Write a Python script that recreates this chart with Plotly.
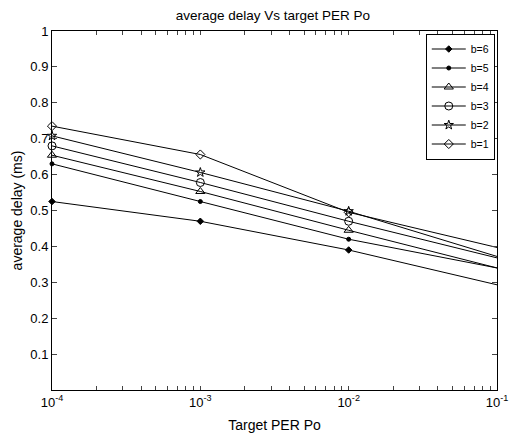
import plotly.graph_objects as go

x_vals = [1e-4, 1e-3, 1e-2, 1e-1]
labels = ["b=6", "b=5", "b=4", "b=3", "b=2", "b=1"]
b6 = [0.525, 0.470, 0.390, 0.293]
b5 = [0.630, 0.525, 0.420, 0.340]
b4 = [0.654, 0.553, 0.445, 0.340]
b3 = [0.680, 0.578, 0.470, 0.368]
b2 = [0.708, 0.606, 0.498, 0.372]
b1 = [0.735, 0.656, 0.495, 0.397]
series = [b6, b5, b4, b3, b2, b1]
symbols = ["diamond", "circle", "triangle-up-open", "circle-open", "star-open", "diamond-open"]
sizes = [5, 4, 8, 8, 7, 7]

decades = [1e-4, 1e-3, 1e-2]
decade_labels = ["10<sup>-4</sup>", "10<sup>-3</sup>", "10<sup>-2</sup>"]
xtick_vals = []
xtick_text = []
for d, lab in zip(decades, decade_labels):
    for m in range(1, 10):
        xtick_vals.append(m * d)
        xtick_text.append(lab if m == 1 else "")
xtick_vals.append(1e-1)
xtick_text.append("10<sup>-1</sup>")
ytick_vals = [0.1, 0.2, 0.3, 0.4, 0.5, 0.6, 0.7, 0.8, 0.9, 1]
ytick_text = ["0.1", "0.2", "0.3", "0.4", "0.5", "0.6", "0.7", "0.8", "0.9", "1"]

fig = go.Figure()
for name, ys, sym, sz in zip(labels, series, symbols, sizes):
    fig.add_trace(go.Scatter(
        x=x_vals, y=ys, name=name, mode="lines+markers",
        line=dict(color="black", width=1),
        marker=dict(symbol=sym, size=sz, color="black", line=dict(color="black", width=1)),
        cliponaxis=False,
    ))

fig.update_layout(
    width=515, height=436,
    margin=dict(l=52, r=18, t=31, b=46, autoexpand=False),
    paper_bgcolor="white", plot_bgcolor="white",
    font=dict(family="Liberation Sans, Arial, sans-serif", size=13, color="black"),
    title=dict(text="average delay Vs target PER Po", xref="container", x=0.53, xanchor="center",
               yref="container", y=0.965, yanchor="middle", font=dict(size=13.5)),
    showlegend=True,
    legend=dict(x=0.995, y=0.993, xanchor="right", yanchor="top",
                bordercolor="black", borderwidth=1, bgcolor="white",
                font=dict(size=10.5), itemwidth=34, tracegroupgap=0),
)
fig.update_xaxes(
    type="log", range=[-4, -1], tickmode="array", tickvals=xtick_vals, ticktext=xtick_text,
    ticks="inside", ticklen=4, showline=True, linecolor="black", linewidth=1, mirror="ticks",
    showgrid=False, zeroline=False, automargin=False, tickfont=dict(size=13),
    title=dict(text="Target PER Po", standoff=11, font=dict(size=14)),
)
fig.update_yaxes(
    range=[0, 1], tickvals=ytick_vals, ticktext=ytick_text,
    ticks="inside", ticklen=5, showline=True, linecolor="black", linewidth=1, mirror="ticks",
    showgrid=False, zeroline=False, automargin=False, tickfont=dict(size=13),
    title=dict(text="average delay (ms)", standoff=4, font=dict(size=14)),
)

fig.write_html(
    "out.html",
    config={"displayModeBar": False},
    post_script=(
        "document.body.style.margin='0';document.body.style.overflow='hidden';"
        "document.documentElement.style.overflow='hidden';"
    ),
)
